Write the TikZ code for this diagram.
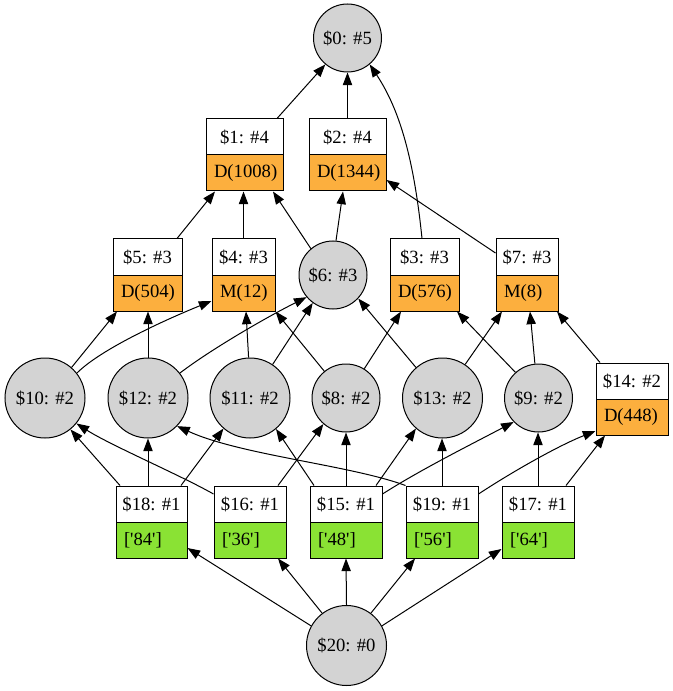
\documentclass[tikz,border=0pt]{standalone}
\usepackage{fontspec}
\setmainfont{Liberation Serif}[Ligatures=TeXOff]
\usetikzlibrary{arrows.meta,calc}
\definecolor{boxorange}{HTML}{FCAF3E}
\definecolor{boxgreen}{HTML}{8AE234}
\definecolor{circgray}{HTML}{D3D3D3}
\newcommand{\recnode}[7]{%
  \pgfmathsetmacro\rwd{#4*0.75}%
  \pgfmathsetmacro\rtw{(#4-16)*0.75}%
  \node[upcell, minimum width=\rwd pt] (#1) at (#2,#3+18) {#5};%
  \node[lowcell, fill=#7, text width=\rtw pt] (#1l) at (#2,#3+54) {#6};%
}
\begin{document}
\begin{tikzpicture}[x=0.75pt,y=-0.75pt,
  font=\fontsize{14}{16}\selectfont, line width=0.75pt,
  circ/.style={circle, draw, fill=circgray, inner sep=0pt},
  upcell/.style={rectangle, draw, fill=white, minimum height=27pt, inner sep=0pt},
  lowcell/.style={rectangle, draw, minimum height=27pt, inner xsep=6pt, inner ysep=0pt, align=left},
  arr/.style={-{Triangle[length=9.5pt,width=7pt]}}]
\useasboundingbox (0,0) rectangle (673,691);

% circles
\node[circ, minimum size=51pt] (c0) at (347.5,38) {\$0: \#5};
\node[circ, minimum size=51pt] (c6) at (333,275) {\$6: \#3};
\node[circ, minimum size=60pt] (c10) at (45,398) {\$10: \#2};
\node[circ, minimum size=60pt] (c12) at (148,398) {\$12: \#2};
\node[circ, minimum size=60pt] (c11) at (250,398) {\$11: \#2};
\node[circ, minimum size=51pt] (c8) at (346,398) {\$8: \#2};
\node[circ, minimum size=60pt] (c13) at (442.5,398) {\$13: \#2};
\node[circ, minimum size=51pt] (c9) at (538.5,398) {\$9: \#2};
\node[circ, minimum size=60pt] (c20) at (346.5,645.5) {\$20: \#0};

% record boxes
\recnode{n1}{244.5}{119}{77}{\$1: \#4}{D(1008)}{boxorange}
\recnode{n2}{347.5}{119}{77}{\$2: \#4}{D(1344)}{boxorange}
\recnode{n5}{147.5}{239}{69}{\$5: \#3}{D(504)}{boxorange}
\recnode{n4}{243.5}{239}{63}{\$4: \#3}{M(12)}{boxorange}
\recnode{n3}{424.5}{239}{69}{\$3: \#3}{D(576)}{boxorange}
\recnode{n7}{527}{239}{62}{\$7: \#3}{M(8)}{boxorange}
\recnode{n14}{632}{363}{72}{\$14: \#2}{D(448)}{boxorange}
\recnode{n18}{151.5}{486}{71}{\$18: \#1}{['84']}{boxgreen}
\recnode{n16}{250}{486}{72}{\$16: \#1}{['36']}{boxgreen}
\recnode{n15}{346}{486}{72}{\$15: \#1}{['48']}{boxgreen}
\recnode{n19}{442}{486}{72}{\$19: \#1}{['56']}{boxgreen}
\recnode{n17}{538}{486}{72}{\$17: \#1}{['64']}{boxgreen}

% edges to $0
\draw[arr] (n1.north -| 277,0) -- (c0.230);
\draw[arr] (n2.north) -- (c0.south);
\draw[arr] (n3.north -| 422,0) .. controls (414,160) and (400,110) .. (c0.-50);

% edges to level 2
\draw[arr] (n5.north -| 177,0) -- (n1l.south -| 215,0);
\draw[arr] (n4.north) -- (n4.north |- n1l.south);
\draw[arr] (c6.130) -- (n1l.south -| 273,0);
\draw[arr] (c6.85) -- (n2l.south -| 343,0);
\draw[arr] (n7.west |- 0,253) -- (n2l.east |- 0,180);

% edges to level 3
\draw[arr] (c10.49) -- (n5l.south -| 117,0);
\draw[arr] (c10.38) .. controls (100,350) and (160,322) .. (n4l.west |- 0,301);
\draw[arr] (c12.north) -- (n5l.south -| c12.north);
\draw[arr] (c12.38) .. controls (210,350) and (265,318) .. (c6.220);
\draw[arr] (c11.92) -- (n4l.south -| 246,0);
\draw[arr] (c11.56) -- (c6.234);
\draw[arr] (c8.129) -- (n4l.south east);
\draw[arr] (c8.58) -- (n3l.south -| 401,0);
\draw[arr] (c13.131) -- (c6.-43);
\draw[arr] (c13.56) -- (n7l.south -| 502,0);
\draw[arr] (c9.132) -- (n3l.south -| 457,0);
\draw[arr] (c9.96) -- (n7l.south -| 530,0);
\draw[arr] (n14.north -| 600,0) -- (n7l.south -| 557,0);

% edges from row 4
\draw[arr] (n18.north -| 120,0) -- (c10.-51);
\draw[arr] (n16.west |- 0,494) .. controls (180,475) and (110,445) .. (c10.-39);
\draw[arr] (n18.north -| c12.south) -- (c12.south);
\draw[arr] (n18.north -| 181,0) -- (c11.-131);
\draw[arr] (n19.north west) .. controls (350,465) and (240,455) .. (c12.-44);
\draw[arr] (n15.north -| 314,0) -- (c11.-50);
\draw[arr] (n16.north -| 278,0) -- (c8.-131);
\draw[arr] (n15.north) -- (c8.south);
\draw[arr] (n15.north -| 376,0) -- (c13.-131);
\draw[arr] (n15.east |- 0,494) .. controls (420,470) and (470,445) .. (c9.-136);
\draw[arr] (n19.north) -- (c13.south -| n19.north);
\draw[arr] (n19.east |- 0,494) .. controls (515,470) and (560,445) .. (n14l.west |- 0,431);
\draw[arr] (n17.north) -- (c9.south -| n17.north);
\draw[arr] (n17.north -| 566,0) -- (n14l.south -| 605,0);

% edges from $20
\draw[arr] (c20.151) -- (n18l.east |- 0,548);
\draw[arr] (c20.127) -- (n16l.south -| 278,0);
\draw[arr] (c20.north) -- (n15l.south);
\draw[arr] (c20.53) -- (n19l.south -| 415,0);
\draw[arr] (c20.29) -- (n17l.west |- 0,549);
\end{tikzpicture}
\end{document}
